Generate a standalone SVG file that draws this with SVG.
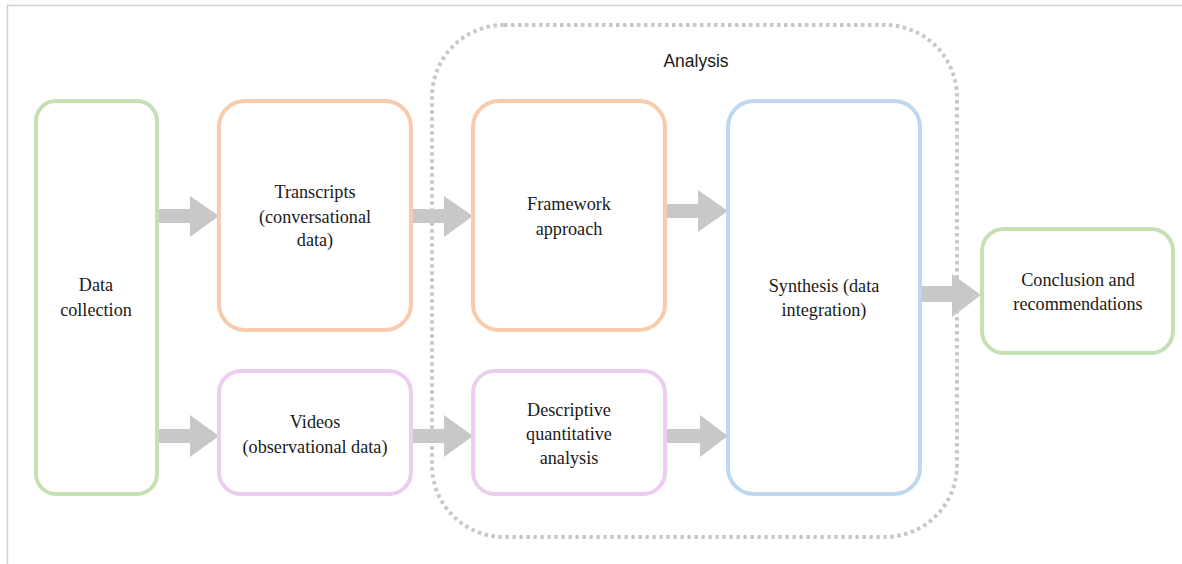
<svg xmlns="http://www.w3.org/2000/svg" width="1182" height="564" viewBox="0 0 1182 564">
<style>
.node{fill:#fff;stroke-width:4}
.g{stroke:#c5e0b4}.o{stroke:#f8cbad}.b{stroke:#bdd7ee}.p{stroke:#ebcdef}
.t{font-family:"Liberation Serif","Times New Roman",serif;font-size:18.2px;fill:#1a1a1a;text-anchor:middle}
.arr{fill:#c8c8c8}
</style>
<rect x="0" y="0" width="1182" height="564" fill="#fff"/>
<path d="M7.5 564 V5.5 H1182" fill="none" stroke="#d0d0d0" stroke-width="1.5"/>
<g id="analysis">
<rect x="432" y="25" width="525" height="512" rx="72" fill="none" stroke="#c8c8c8" stroke-width="4" stroke-dasharray="3.5 3.5"/>
<text x="696" y="67" font-family="'Liberation Sans',Arial,sans-serif" font-size="17.5" fill="#1a1a1a" text-anchor="middle">Analysis</text>
</g>
<g id="connectors">
<polygon class="arr" points="158,209 190,209 190,196 219,216 190,237 190,223 158,223"/>
<polygon class="arr" points="411,209 444,209 444,196 473,216 444,237 444,223 411,223"/>
<polygon class="arr" points="665,204 698,204 698,190 728,211 698,232 698,218 665,218"/>
<polygon class="arr" points="920,286 952,286 952,274 981,295 952,317 952,302 920,302"/>
<polygon class="arr" points="158,429 190,429 190,415 219,436 190,457 190,443 158,443"/>
<polygon class="arr" points="411,429 444,429 444,415 473,436 444,457 444,443 411,443"/>
<polygon class="arr" points="665,429 700,429 700,415 728,436 700,457 700,443 665,443"/>
</g>
<g id="data-collection">
<rect class="node g" x="36" y="101" width="121" height="393" rx="20"/>
<text class="t" x="96" y="291">Data</text>
<text class="t" x="96" y="316">collection</text>
</g>
<g id="transcripts">
<rect class="node o" x="219" y="101" width="192" height="229" rx="26"/>
<text class="t" x="315" y="198">Transcripts</text>
<text class="t" x="315" y="223">(conversational</text>
<text class="t" x="315" y="246">data)</text>
</g>
<g id="framework">
<rect class="node o" x="473" y="101" width="192" height="229" rx="26"/>
<text class="t" x="569" y="210">Framework</text>
<text class="t" x="569" y="235">approach</text>
</g>
<g id="synthesis">
<rect class="node b" x="728" y="101" width="192" height="393" rx="26"/>
<text class="t" x="824" y="292">Synthesis (data</text>
<text class="t" x="824" y="316">integration)</text>
</g>
<g id="videos">
<rect class="node p" x="219" y="371" width="192" height="123" rx="22"/>
<text class="t" x="315" y="428">Videos</text>
<text class="t" x="315" y="453">(observational data)</text>
</g>
<g id="descriptive">
<rect class="node p" x="473" y="371" width="192" height="123" rx="22"/>
<text class="t" x="569" y="416">Descriptive</text>
<text class="t" x="569" y="440">quantitative</text>
<text class="t" x="569" y="464">analysis</text>
</g>
<g id="conclusion">
<rect class="node g" x="982" y="229" width="191" height="124" rx="22"/>
<text class="t" x="1078" y="286">Conclusion and</text>
<text class="t" x="1078" y="310">recommendations</text>
</g>
</svg>
